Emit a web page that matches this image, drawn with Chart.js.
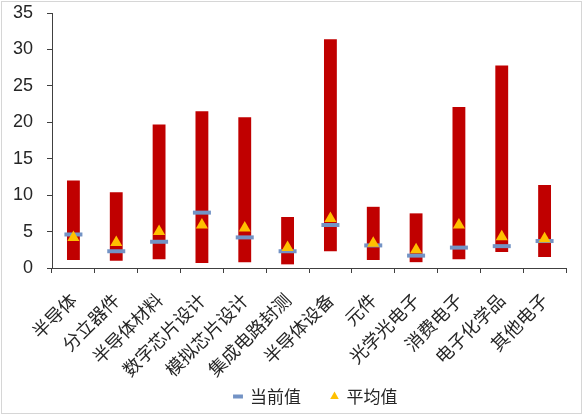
<!DOCTYPE html>
<html lang="zh">
<head>
    <meta charset="UTF-8">
    <title>估值区间</title>
    <script src="https://cdn.jsdelivr.net/npm/chart.js"></script>
    <style>
        body { margin: 0; background: #fff; }
        #wrap { position: relative; width: 585px; height: 416px; }
        #frame { position: absolute; left: 1px; top: 1px; width: 579px; height: 411px; border: 1px solid #d6d6d6; pointer-events: none; }
    </style>
</head>
<body>
    <div id="wrap">
        <canvas id="chart" width="585" height="416"></canvas>
        <div id="frame"></div>
    </div>

    <script>
        // Data
        const categories = ['半导体', '分立器件', '半导体材料', '数字芯片设计', '模拟芯片设计', '集成电路封测',
                            '半导体设备', '元件', '光学光电子', '消费电子', '电子化学品', '其他电子'];
        const lowValues  = [1.1, 1.0, 1.2, 0.7, 0.8, 0.5, 2.3, 1.1, 0.8, 1.2, 2.2, 1.5];
        const highValues = [12.0, 10.4, 19.7, 21.5, 20.7, 7.0, 31.4, 8.4, 7.5, 22.1, 27.8, 11.4];
        const currentValues = [4.6, 2.3, 3.6, 7.6, 4.2, 2.3, 5.9, 3.1, 1.7, 2.8, 3.0, 3.7];
        const averageValues = [4.2, 3.5, 5.0, 5.9, 5.5, 2.8, 6.8, 3.4, 2.5, 5.9, 4.3, 4.0];
        const yTicks = [0, 5, 10, 15, 20, 25, 30, 35];

        const ranges = lowValues.map((lo, i) => [lo, highValues[i]]);
        const cjk = '"Noto Sans CJK SC", "Liberation Sans", sans-serif';

        // nudge the legend to where the original sits
        const legendShift = {
            id: 'legendShift',
            beforeDraw(chart) {
                const lg = chart.legend;
                if (!lg || lg._shifted) return;
                lg.left += 33; lg.right += 33;
                lg._shifted = true;
            }
        };

        new Chart(document.getElementById('chart'), {
            data: {
                labels: categories,
                datasets: [
                    {
                        type: 'line',
                        label: '当前值',
                        data: currentValues,
                        showLine: false,
                        pointStyle: 'line',
                        pointRadius: 9,
                        pointBorderWidth: 4,
                        borderWidth: 3,
                        borderColor: '#7393c5',
                        backgroundColor: '#7393c5',
                        order: 1
                    },
                    {
                        type: 'line',
                        label: '平均值',
                        data: averageValues,
                        showLine: false,
                        pointStyle: 'triangle',
                        pointRadius: 7,
                        pointBorderWidth: 0,
                        borderWidth: 0,
                        borderColor: '#ffc000',
                        backgroundColor: '#ffc000',
                        order: 0
                    },
                    {
                        type: 'bar',
                        label: '区间',
                        data: ranges,
                        backgroundColor: '#c00000',
                        borderSkipped: false,
                        categoryPercentage: 1,
                        barPercentage: 0.3,
                        order: 2
                    }
                ]
            },
            plugins: [legendShift],
            options: {
                responsive: false,
                animation: false,
                layout: { padding: { left: 0, top: 11, right: 19, bottom: 1 } },
                plugins: {
                    tooltip: { enabled: false },
                    legend: {
                        position: 'bottom',
                        labels: {
                            filter: item => item.text !== '区间',
                            sort: (a, b) => a.datasetIndex - b.datasetIndex,
                            usePointStyle: true,
                            boxHeight: 7,
                            boxWidth: 7,
                            padding: 30,
                            color: '#262626',
                            font: { family: cjk, size: 17 }
                        }
                    }
                },
                scales: {
                    x: {
                        offset: true,
                        grid: { offset: true, drawOnChartArea: false, tickLength: 5, color: '#404040' },
                        border: { color: '#404040', width: 1 },
                        ticks: {
                            maxRotation: 45,
                            minRotation: 45,
                            color: '#262626',
                            padding: 16,
                            font: { family: cjk, size: 18 }
                        },
                        afterFit: s => {
                            s.height = 90;
                            // long rotated labels run below the axis box; don't clip them
                            s._computeLabelArea = () => undefined;
                        }
                    },
                    y: {
                        min: 0,
                        max: 35,
                        afterBuildTicks: s => { s.ticks = yTicks.map(v => ({ value: v })); },
                        grid: { drawOnChartArea: false, tickLength: 5, color: '#404040' },
                        border: { color: '#404040', width: 1 },
                        ticks: {
                            color: '#262626',
                            padding: 14,
                            font: { family: '"Liberation Sans", Arial, sans-serif', size: 18 }
                        },
                        afterFit: s => { s.width = 52; s.paddingTop = 0; s.paddingBottom = 0; }
                    }
                }
            }
        });
    </script>
</body>
</html>
